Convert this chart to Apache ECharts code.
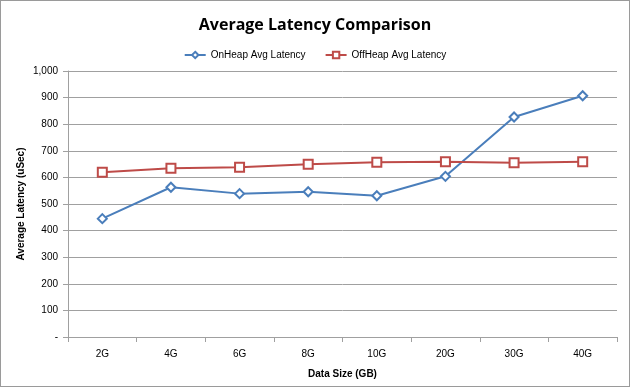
<!DOCTYPE html>
<html><head><meta charset="utf-8">
<script src="https://cdn.jsdelivr.net/npm/echarts@6/dist/echarts.min.js"></script>
<style>html,body{margin:0;padding:0;background:#fff}#c{width:628px;height:385px;border:1px solid #9a9a9a}</style>
</head><body><div id="c"></div>
<script>
const categories = ['2G','4G','6G','8G','10G','20G','30G','40G'];
const onHeap = [445, 563, 539, 546, 531, 604, 827, 907];
const offHeap = [619, 634, 638, 649, 657, 659, 655, 659];
const yTicks = [0,100,200,300,400,500,600,700,800,900,1000];

const chart = echarts.init(document.getElementById('c'));
const font = '"Liberation Sans", sans-serif';
chart.setOption({
  backgroundColor: '#fff',
  animation: false,
  title: {
    text: 'Average Latency Comparison', left: 'center', top: 11,
    textStyle: {fontFamily: '"Open Sans", sans-serif', fontSize: 16, fontWeight: 'bold', color: '#000'}
  },
  legend: {
    top: 44, left: 'center', itemGap: 19, itemWidth: 21, itemHeight: 8,
    textStyle: {fontFamily: font, fontSize: 10, color: '#000'}
  },
  grid: {left: 67, right: 12, top: 70, bottom: 49},
  xAxis: {
    type: 'category', data: categories, boundaryGap: true,
    name: 'Data Size (GB)', nameLocation: 'middle', nameGap: 32,
    nameTextStyle: {fontFamily: font, fontSize: 10, fontWeight: 'bold', color: '#000'},
    axisLine: {lineStyle: {color: '#a0a0a0', width: 1}},
    axisTick: {show: true, alignWithLabel: false, length: 5, lineStyle: {color: '#a0a0a0'}},
    axisLabel: {fontFamily: font, fontSize: 10, color: '#000', margin: 12}
  },
  yAxis: {
    type: 'value', min: 0, max: 1000, interval: 100,
    name: 'Average Latency (uSec)', nameLocation: 'middle', nameGap: 42, nameMoveOverlap: false,
    nameTextStyle: {fontFamily: font, fontSize: 10, fontWeight: 'bold', color: '#000'},
    axisLine: {show: true, lineStyle: {color: '#a0a0a0'}},
    axisTick: {show: true, length: 5, lineStyle: {color: '#a0a0a0'}},
    axisLabel: {fontFamily: font, fontSize: 10, color: '#000', margin: 10,
      formatter: v => v === 0 ? '-' : v.toLocaleString('en-US')},
    splitLine: {lineStyle: {color: '#a0a0a0', width: 1}}
  },
  series: [
    {name: 'OnHeap Avg Latency', type: 'line', data: onHeap, symbol: 'diamond', symbolSize: 9,
      lineStyle: {color: '#4a7ebb', width: 2}, itemStyle: {color: '#fff', borderColor: '#4a7ebb', borderWidth: 2}},
    {name: 'OffHeap Avg Latency', type: 'line', data: offHeap, symbol: 'rect', symbolSize: 9,
      lineStyle: {color: '#be4b48', width: 2}, itemStyle: {color: '#fff', borderColor: '#be4b48', borderWidth: 2}}
  ]
});
</script></body></html>
